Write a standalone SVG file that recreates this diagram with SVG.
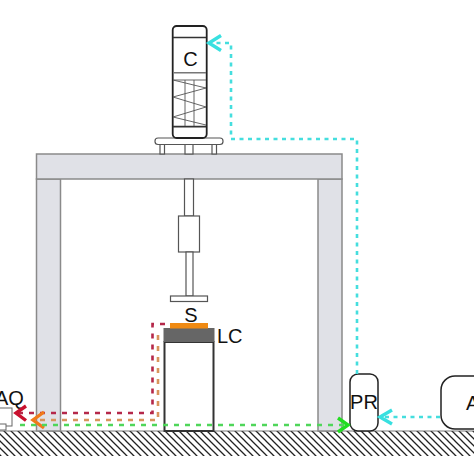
<svg xmlns="http://www.w3.org/2000/svg" width="474" height="474" viewBox="0 0 474 474">
<style>
text{font-family:"Liberation Sans",Arial,sans-serif;font-size:20px;fill:#111}
.ln{fill:#fff;stroke:#555;stroke-width:1.2}
.fr{fill:#e0e1e7;stroke:#8a8a8a;stroke-width:1.5}
.b{fill:#fff;stroke:#222;stroke-width:1.5}
.d{fill:none;stroke-width:2.6;stroke-dasharray:5 6}
.c{fill:none;stroke-width:2.6;stroke-dasharray:4 4.500}
.h{fill:none;stroke-width:3.4}
</style>
<defs>
<pattern id="hatch" width="7" height="7" patternUnits="userSpaceOnUse">
<path d="M-1 -1L8 8M-1 6L1 8M6 -1L8 1" stroke="#222" stroke-width="1.300"/>
</pattern>
</defs>
<rect width="474" height="474" fill="#fff"/>
<g id="ground"><rect x="0" y="431" width="474" height="25" fill="url(#hatch)"/><line x1="0" y1="431" x2="474" y2="431" stroke="#555" stroke-width="0.8"/></g>
<g id="frame">
<rect class="fr" x="36.500" y="179" width="24" height="252"/>
<rect class="fr" x="318" y="179" width="24" height="252"/>
<rect class="fr" x="36.500" y="154" width="305.500" height="25"/>
</g>
<g id="actuator">
<rect class="ln" x="160" y="143" width="4.500" height="11"/>
<rect class="ln" x="185" y="143" width="8" height="11"/>
<rect class="ln" x="212" y="143" width="4.500" height="11"/>
<rect class="ln" x="155" y="138" width="68" height="6.500" rx="3"/>
<rect x="172.700" y="26" width="34" height="112" rx="4" fill="#fff" stroke="#222" stroke-width="1.800"/>
<path d="M173 37.500H206" stroke="#333" stroke-width="1.500"/>
<path d="M173 72.800H206" stroke="#777" stroke-width="1.500"/>
<path d="M173 80H206" stroke="#666" stroke-width="1"/>
<path d="M173 126.700H206" stroke="#333" stroke-width="1.800"/>
<path d="M173 80L206 88L173 97L206 107L173 117L206 125M185 80V126M194 80V126" fill="none" stroke="#555" stroke-width="0.900"/>
<text x="190.500" y="66" text-anchor="middle">C</text>
</g>
<g id="rod">
<rect class="ln" x="184.500" y="179" width="9" height="37"/>
<rect class="ln" x="178.500" y="216" width="21" height="36"/>
<rect class="ln" x="186" y="252" width="7" height="44"/>
<rect class="ln" x="170.500" y="296" width="37" height="5.500"/>
</g>
<g id="LC">
<rect x="164.500" y="342" width="49" height="89" fill="#fff" stroke="#333" stroke-width="2"/>
<rect x="163.500" y="328" width="51" height="14" fill="#666"/>
<text x="217" y="343">LC</text>
</g>
<g id="S">
<rect x="170" y="323" width="38" height="5.500" fill="#f08a12"/>
<text x="191" y="322" text-anchor="middle">S</text>
</g>
<g id="AQ">
<rect x="-2" y="408" width="14" height="18" fill="#fff" stroke="#666" stroke-width="1"/>
<rect x="-2" y="424" width="8" height="6" fill="#fff" stroke="#666" stroke-width="1"/>
<text x="-5" y="405">AQ</text>
</g>
<g id="PR">
<rect class="b" x="350" y="374" width="28" height="57" rx="8"/>
<text x="364" y="409" text-anchor="middle">PR</text>
</g>
<g id="A">
<rect class="b" x="441" y="376" width="50" height="53" rx="14"/>
<text x="466" y="410">A</text>
</g>
<g id="connectors">
<path class="d" stroke="#b5284a" d="M165 324H152.500V413H18"/>
<path class="h" stroke="#c8102e" d="M26 406L16 413L26 420.500"/>
<path class="d" stroke="#d9945c" d="M158 335V420H33"/>
<path class="h" stroke="#f07a1a" d="M44 412L33 420L44 428"/>
<path class="d" stroke="#4fd65a" d="M20 425H348"/>
<path class="h" stroke="#22dd22" d="M338 418L348 425L338 432"/>
<path class="c" stroke="#45dede" d="M440 417H380"/>
<path class="h" stroke="#38e0e0" d="M392 410L380 417L392 424"/>
<path class="c" stroke="#45dede" d="M357 374V139H231V43H209"/>
<path class="h" stroke="#38e0e0" d="M221 35.500L209 43L221 50.500"/>
</g>
</svg>
